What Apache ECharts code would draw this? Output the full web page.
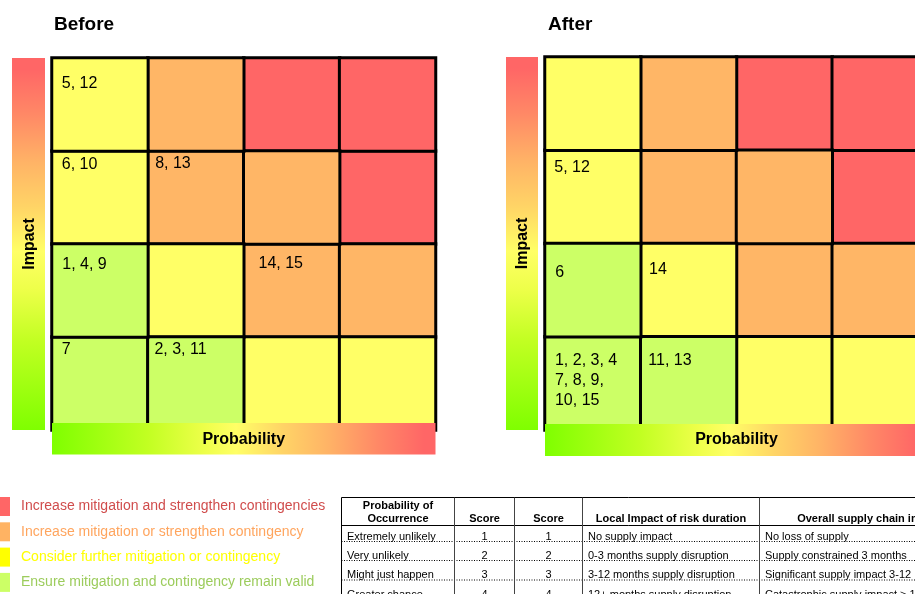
<!DOCTYPE html>
<html><head><meta charset="utf-8">
<script src="https://cdn.jsdelivr.net/npm/echarts@6/dist/echarts.min.js"></script>
<style>html,body{margin:0;padding:0;background:#fff}#chart{width:915px;height:594px}</style>
</head><body><div id="chart"></div>
<script>
// ---------- DATA ----------
const probabilityLevels = ['1', '2', '3', '4'];
const impactLevels = ['1', '2', '3', '4'];
const actionNames = [
  'Increase mitigation and strengthen contingencies',
  'Increase mitigation or strengthen contingency',
  'Consider further mitigation or contingency',
  'Ensure mitigation and contingency remain valid'
];
// action level per cell (index into actionNames); rows = impact 1..4, columns = probability 1..4
const riskMatrix = [
  [3, 3, 2, 2],
  [3, 2, 1, 1],
  [2, 1, 1, 0],
  [2, 1, 0, 0]
];
// [probability, impact, risk ids]
const beforeRisks = [
  [1, 4, '5, 12'], [1, 3, '6, 10'], [2, 3, '8, 13'], [1, 2, '1, 4, 9'],
  [3, 2, '14, 15'], [1, 1, '7'], [2, 1, '2, 3, 11']
];
const afterRisks = [
  [1, 3, '5, 12'], [1, 2, '6'], [2, 2, '14'],
  [1, 1, '1, 2, 3, 4\n7, 8, 9,\n10, 15'], [2, 1, '11, 13']
];
const tableHeaders = ['Probability of\nOccurrence', 'Score', 'Score', 'Local Impact of risk duration', 'Overall supply chain impact'];
const probabilityNames = ['Extremely unlikely', 'Very unlikely', 'Might just happen', 'Greater chance'];
const probabilityScores = ['1', '2', '3', '4'];
const impactScores = ['1', '2', '3', '4'];
const localImpact = ['No supply impact', '0-3 months supply disruption', '3-12 months supply disruption', '12+ months supply disruption'];
const overallImpact = ['No loss of supply', 'Supply constrained 3 months', 'Significant supply impact 3-12 months', 'Catastrophic supply impact > 12 months'];

// ---------- STYLE ----------
const FONT = '"Liberation Sans", Arial, Helvetica, sans-serif';
const levelColors = ['#ff6666', '#ffb666', '#ffff66', '#ccff66'];
const legendIconColors = ['#ff6666', '#ffb363', '#ffff00', '#ccff66'];
const legendTextColors = ['#d04c4c', '#ffa55e', '#ffff00', '#9ccc5c'];
const probGradient = [
  [0, '#7fff00'], [0.25, '#c2ff22'], [0.4, '#eeff4a'], [0.48, '#ffff66'],
  [0.6, '#ffd466'], [0.72, '#ffb366'], [0.85, '#ff8866'], [0.97, '#ff6666'], [1, '#ff6666']
];
const impactGradient = [
  [0, '#ff6666'], [0.03, '#ff6666'], [0.15, '#ff8866'], [0.28, '#ffb366'], [0.4, '#ffd466'],
  [0.52, '#ffff66'], [0.62, '#eeff4a'], [0.76, '#c2ff22'], [1, '#7fff00']
];
const panels = [
  { title: 'Before', titleLeft: 54, left: 52, top: 58, width: 383.5, height: 372, risks: beforeRisks,
    impactBar: [12, 33], probBar: [423, 31.5], nameGapY: 22, nameGapX: 9.5,
    nudge: { '1,4': [11.5, 17.5], '1,3': [11.5, 5.5], '2,3': [9, 4.5], '1,2': [12, 12], '3,2': [16.5, 11.5], '1,1': [11.5, 4.5], '2,1': [8.3, 4.5] } },
  { title: 'After', titleLeft: 548, left: 545, top: 57, width: 383, height: 373, risks: afterRisks,
    impactBar: [506, 32], probBar: [424, 32], nameGapY: 22, nameGapX: 10,
    nudge: { '1,3': [11, 9], '1,2': [12, 21], '2,2': [10, 18], '1,1': [11.7, 16], '2,1': [9.3, 16] } }
];

function grad(stops, vertical) {
  return { type: 'linear', x: 0, y: 0, x2: vertical ? 0 : 1, y2: vertical ? 1 : 0,
    colorStops: stops.map(s => ({ offset: s[0], color: s[1] })) };
}

// ---------- SERIES ----------
const series = [];
panels.forEach((panel, pi) => {
  actionNames.forEach((name, level) => {
    const data = [];
    riskMatrix.forEach((row, ii) => row.forEach((lv, pp) => {
      if (lv !== level) return;
      const risk = panel.risks.find(r => r[0] === pp + 1 && r[1] === ii + 1);
      const item = { value: [pp, ii, level] };
      if (risk) {
        item.label = { show: true, position: panel.nudge[(pp + 1) + ',' + (ii + 1)] || [10, 10], formatter: risk[2] };
      }
      data.push(item);
    }));
    series.push({
      type: 'heatmap', name: name, xAxisIndex: pi, yAxisIndex: pi, data: data, z: 2,
      itemStyle: { color: levelColors[level], borderColor: '#000', borderWidth: 3 },
      label: { show: false, fontSize: 16, lineHeight: 20, color: '#000', fontFamily: FONT, align: 'left', verticalAlign: 'top' },
      emphasis: { disabled: true }, silent: true
    });
  });
});

// ---------- GRAPHIC (gradient bars + table) ----------
const graphic = [];
panels.forEach(p => {
  graphic.push({ type: 'rect', z: 10, silent: true,
    shape: { x: p.impactBar[0], y: p.top, width: p.impactBar[1], height: p.height },
    style: { fill: grad(impactGradient, true) } });
  graphic.push({ type: 'rect', z: 10, silent: true,
    shape: { x: p.left, y: p.probBar[0], width: p.width, height: p.probBar[1] },
    style: { fill: grad(probGradient, false) } });
});

const colEdges = [341.5, 454.5, 514.5, 582.5, 759.5, 981];
const tableTop = 497.5, headerBottom = 525.5, rowBottoms = [541.5, 560.5, 580, 599.5];
const tableRight = 981;
const columns = [probabilityNames, probabilityScores, impactScores, localImpact, overallImpact];
const colAlign = ['left', 'center', 'center', 'left', 'left'];
// lines
graphic.push({ type: 'line', z: 10, silent: true, shape: { x1: colEdges[0], y1: tableTop, x2: tableRight, y2: tableTop }, style: { stroke: '#000', lineWidth: 1 } });
graphic.push({ type: 'line', z: 10, silent: true, shape: { x1: colEdges[0], y1: headerBottom, x2: tableRight, y2: headerBottom }, style: { stroke: '#000', lineWidth: 1 } });
rowBottoms.slice(0, 3).forEach(y => {
  graphic.push({ type: 'line', z: 10, silent: true, shape: { x1: colEdges[0], y1: y, x2: tableRight, y2: y }, style: { stroke: '#000', lineWidth: 1, lineDash: [1, 1.5] } });
});
colEdges.slice(0, 5).forEach((x, i) => {
  graphic.push({ type: 'line', z: 11, silent: true, shape: { x1: x, y1: tableTop, x2: x, y2: 600 }, style: { stroke: i === 0 ? '#000' : '#444', lineWidth: 1 } });
});
// header texts
tableHeaders.forEach((h, c) => {
  graphic.push({ type: 'text', z: 12, silent: true,
    x: (colEdges[c] + colEdges[c + 1]) / 2, y: headerBottom - 0.5,
    style: { text: h, fill: '#000', font: 'bold 11px ' + FONT, align: 'center', verticalAlign: 'bottom', lineHeight: 12.5 } });
});
// body texts
columns.forEach((col, c) => {
  col.forEach((t, r) => {
    const x = colAlign[c] === 'center' ? (colEdges[c] + colEdges[c + 1]) / 2 : colEdges[c] + 5.5;
    graphic.push({ type: 'text', z: 12, silent: true, x: x, y: rowBottoms[r] - 5,
      style: { text: t, fill: '#000', font: '11px ' + FONT, align: colAlign[c], verticalAlign: 'middle' } });
  });
});

const nameStyle = { fontSize: 16, fontWeight: 'bold', color: '#000', fontFamily: FONT, align: 'center', verticalAlign: 'middle' };

const option = {
  animation: false,
  backgroundColor: '#fff',
  title: panels.map(p => ({ text: p.title, left: p.titleLeft, top: 15, padding: 0,
    textStyle: { fontSize: 19, fontWeight: 'bold', color: '#000', fontFamily: FONT } })),
  legend: {
    orient: 'vertical', left: 0, top: 497, padding: 0, itemWidth: 10, itemHeight: 19, itemGap: 6.3,
    icon: 'rect', selectedMode: false,
    itemStyle: { borderWidth: 0 },
    textStyle: { fontSize: 14, fontFamily: FONT, padding: [0, 0, 0, 6] },
    data: actionNames.map((n, i) => ({ name: n, itemStyle: { color: legendIconColors[i], borderWidth: 0 }, textStyle: { color: legendTextColors[i] } }))
  },
  grid: panels.map(p => ({ left: p.left, top: p.top, width: p.width, height: p.height, containLabel: false, outerBoundsMode: 'none', show: false })),
  xAxis: panels.map((p, i) => ({
    type: 'category', gridIndex: i, data: probabilityLevels, z: 20,
    name: 'Probability', nameLocation: 'middle', nameGap: p.nameGapX, nameTextStyle: nameStyle,
    axisLine: { show: false }, axisTick: { show: false }, axisLabel: { show: false }, splitLine: { show: false }, splitArea: { show: false }
  })),
  yAxis: panels.map((p, i) => ({
    type: 'category', gridIndex: i, data: impactLevels, z: 20,
    name: 'Impact', nameLocation: 'middle', nameRotate: 90, nameGap: p.nameGapY, nameTextStyle: nameStyle,
    axisLine: { show: false }, axisTick: { show: false }, axisLabel: { show: false }, splitLine: { show: false }, splitArea: { show: false }
  })),
  graphic: { elements: graphic },
  series: series
};
const chart = echarts.init(document.getElementById('chart'), null, { renderer: 'canvas' });
chart.setOption(option);
</script>
</body></html>
